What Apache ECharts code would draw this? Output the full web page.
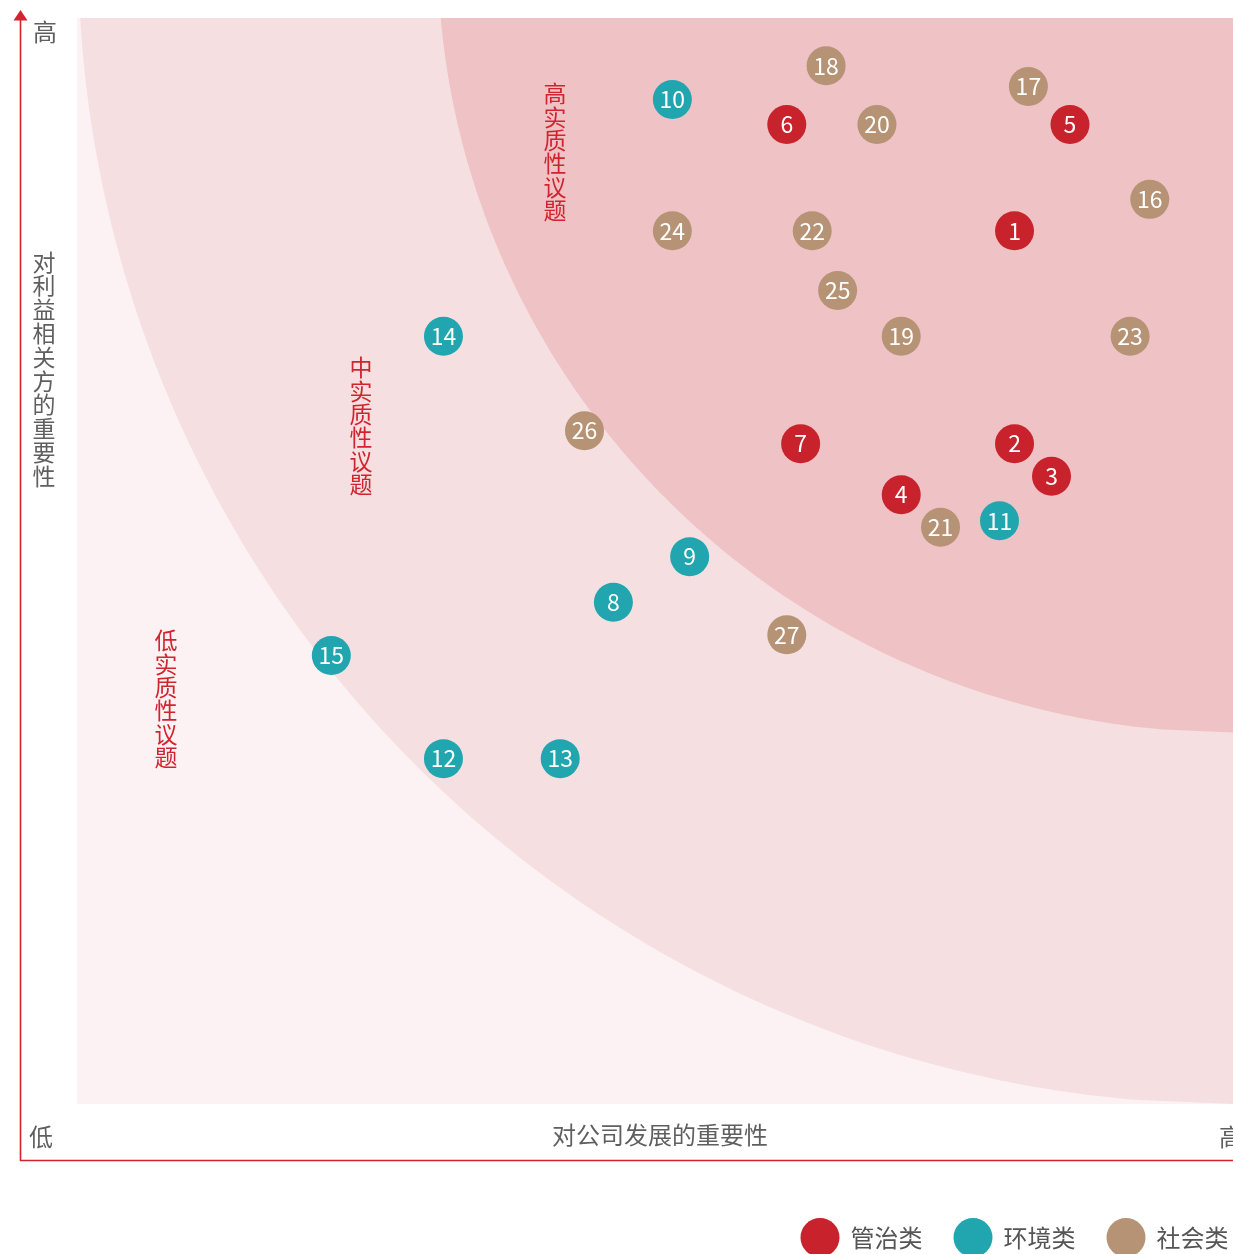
<!DOCTYPE html>
<html>
<head>
<meta charset="utf-8">
<script src="https://cdn.jsdelivr.net/npm/echarts@6/dist/echarts.min.js"></script>
<style>
html,body{margin:0;padding:0;background:#fff;}
#main{width:1233px;height:1254px;}
</style>
</head>
<body>
<div id="main"></div>
<script>
// ---- Data (x: 对公司发展的重要性, y: 对利益相关方的重要性, id) ----
const seriesNames = ['管治类', '环境类', '社会类'];
const governance = [
  [81.1, 80.4, 1], [81.1, 60.8, 2], [84.3, 57.8, 3], [71.3, 56.1, 4],
  [85.9, 90.2, 5], [61.4, 90.2, 6], [62.6, 60.8, 7]
];
const environment = [
  [46.4, 46.2, 8], [53.0, 50.4, 9], [51.5, 92.5, 10], [79.8, 53.7, 11],
  [31.7, 31.8, 12], [41.8, 31.8, 13], [31.7, 70.7, 14], [22.0, 41.3, 15]
];
const social = [
  [92.8, 83.3, 16], [82.3, 93.7, 17], [64.8, 95.6, 18], [71.3, 70.7, 19],
  [69.2, 90.2, 20], [74.7, 53.1, 21], [63.6, 80.4, 22], [91.1, 70.7, 23],
  [51.5, 80.4, 24], [65.8, 74.9, 25], [43.9, 62.0, 26], [61.4, 43.2, 27]
];
const axisRange = [0, 100];
// zone ellipses (data units): centre and radii
const zoneCenter = [100, 106.3];
const outerRadii = [99.9, 106.3];
const innerRadii = [68.8, 72.1];
const zoneLabels = ['高实质性议题', '中实质性议题', '低实质性议题'];
const yTitle = '对利益相关方的重要性';
const xTitle = '对公司发展的重要性';
const lowLabel = '低', highLabel = '高';

const colors = ['#c8232c', '#21a5ae', '#b59374'];
const FONT = '"Noto Sans CJK SC", "Noto Sans", sans-serif';

const chart = echarts.init(document.getElementById('main'), null, {renderer: 'canvas'});

function mkSeries(name, data, color) {
  return {
    name: name,
    type: 'scatter',
    data: data,
    symbol: 'circle',
    symbolSize: 39,
    z: 5,
    itemStyle: {color: color, opacity: 1},
    label: {
      show: true,
      position: 'inside',
      formatter: p => String(p.value[2]),
      color: '#ffffff',
      fontSize: 23,
      fontFamily: FONT
    },
    emphasis: {disabled: true}
  };
}

chart.setOption({
  animation: false,
  textStyle: {fontFamily: FONT},
  grid: {left: 77, top: 18, width: 1156, height: 1086, show: false},
  xAxis: {type: 'value', min: axisRange[0], max: axisRange[1], show: false},
  yAxis: {type: 'value', min: axisRange[0], max: axisRange[1], show: false},
  legend: {
    data: seriesNames,
    left: 800.5,
    top: 1218,
    padding: 0,
    icon: 'circle',
    itemWidth: 39,
    itemHeight: 39,
    itemGap: 31,
    textStyle: {fontSize: 24, color: '#555', fontFamily: FONT, padding: [0, 0, 0, 6]},
    selectedMode: false
  },
  series: [
    mkSeries(seriesNames[0], governance, colors[0]),
    mkSeries(seriesNames[1], environment, colors[1]),
    mkSeries(seriesNames[2], social, colors[2])
  ]
});

const px = p => chart.convertToPixel({gridIndex: 0}, p);

function zonePolygon(radii) {
  const pts = [];
  const yTop = axisRange[1];
  const yEnd = zoneCenter[1] - radii[1];
  const N = 240;
  for (let i = 0; i <= N; i++) {
    const y = yTop + (yEnd - yTop) * i / N;
    const dy = (y - zoneCenter[1]) / radii[1];
    const x = zoneCenter[0] - radii[0] * Math.sqrt(Math.max(0, 1 - dy * dy));
    pts.push(px([x, y]));
  }
  pts.push(px([zoneCenter[0] + 5, yEnd]));
  pts.push(px([zoneCenter[0] + 5, yTop]));
  return pts;
}

const tl = px([axisRange[0], axisRange[1]]);
const br = px([axisRange[1], axisRange[0]]);
const AX = '#d2232e';
const GRAY = '#5f5f5f';
const RED = '#d0252f';

function vtext(str) { return str.split('').join('\n'); }

chart.setOption({
  graphic: [
    {type: 'rect', z: 0, silent: true,
     shape: {x: tl[0], y: tl[1], width: br[0] - tl[0] + 20, height: br[1] - tl[1]},
     style: {fill: '#fcf2f3'}},
    {type: 'polygon', z: 0, silent: true, shape: {points: zonePolygon(outerRadii)}, style: {fill: '#f5dfe1'}},
    {type: 'polygon', z: 0, silent: true, shape: {points: zonePolygon(innerRadii)}, style: {fill: '#efc2c5'}},
    // axes
    {type: 'line', z: 3, silent: true, shape: {x1: 20.5, y1: 18, x2: 20.5, y2: 1161}, style: {stroke: AX, lineWidth: 1.6}},
    {type: 'line', z: 3, silent: true, shape: {x1: 20, y1: 1160.5, x2: 1240, y2: 1160.5}, style: {stroke: AX, lineWidth: 1.6}},
    {type: 'polygon', z: 3, silent: true, shape: {points: [[13.5, 20.5], [27.5, 20.5], [20.5, 10]]}, style: {fill: AX}},
    // axis texts
    {type: 'text', z: 4, silent: true, style: {text: highLabel, x: 45, y: 32, align: 'center', verticalAlign: 'middle', fontSize: 24, fill: GRAY, fontFamily: FONT}},
    {type: 'text', z: 4, silent: true, style: {text: lowLabel, x: 41, y: 1137, align: 'center', verticalAlign: 'middle', fontSize: 24, fill: GRAY, fontFamily: FONT}},
    {type: 'text', z: 4, silent: true, style: {text: highLabel, x: 1219, y: 1137, align: 'left', verticalAlign: 'middle', fontSize: 24, fill: GRAY, fontFamily: FONT}},
    {type: 'text', z: 4, silent: true, style: {text: xTitle, x: 660, y: 1135, align: 'center', verticalAlign: 'middle', fontSize: 24, fill: GRAY, fontFamily: FONT}},
    {type: 'text', z: 4, silent: true, style: {text: vtext(yTitle), x: 44, y: 369, align: 'center', verticalAlign: 'middle', fontSize: 23, lineHeight: 23.8, fill: GRAY, fontFamily: FONT}},
    // zone labels
    {type: 'text', z: 4, silent: true, style: {text: vtext(zoneLabels[0]), x: 555, y: 152, align: 'center', verticalAlign: 'middle', fontSize: 23, lineHeight: 23.4, fill: RED, fontFamily: FONT}},
    {type: 'text', z: 4, silent: true, style: {text: vtext(zoneLabels[1]), x: 361, y: 426, align: 'center', verticalAlign: 'middle', fontSize: 23, lineHeight: 23.4, fill: RED, fontFamily: FONT}},
    {type: 'text', z: 4, silent: true, style: {text: vtext(zoneLabels[2]), x: 166, y: 699, align: 'center', verticalAlign: 'middle', fontSize: 23, lineHeight: 23.4, fill: RED, fontFamily: FONT}}
  ]
});
</script>
</body>
</html>
